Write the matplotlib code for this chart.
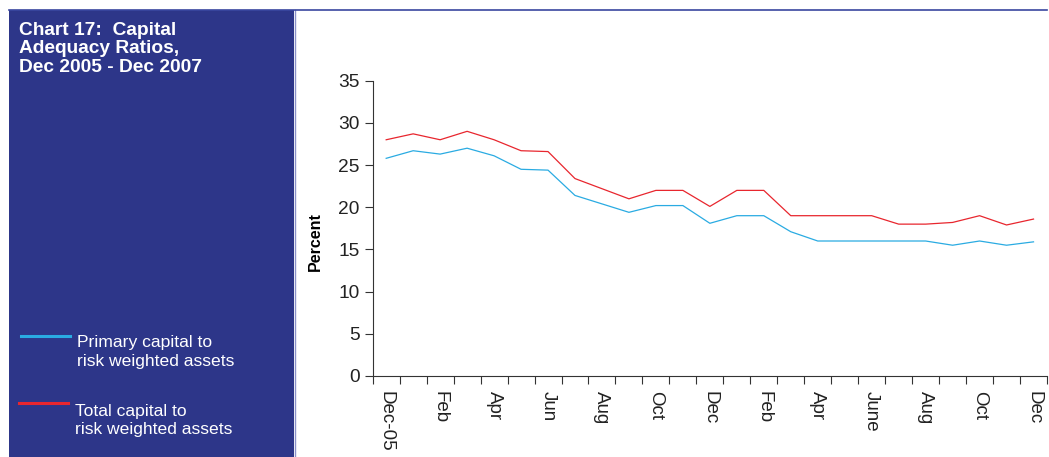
import matplotlib.pyplot as plt
from matplotlib.patches import Rectangle
from matplotlib.lines import Line2D

plt.rcParams['font.family'] = ['Liberation Sans', 'DejaVu Sans']

# monthly observations, Dec 2005 - Dec 2007
months = ["Dec-05", "Jan", "Feb", "Mar", "Apr", "May", "Jun", "Jul", "Aug", "Sep", "Oct", "Nov",
          "Dec", "Jan", "Feb", "Mar", "Apr", "May", "June", "Jul", "Aug", "Sep", "Oct", "Nov", "Dec"]
primary = [25.8, 26.7, 26.3, 27.0, 26.1, 24.5, 24.4, 21.4, 20.4, 19.4, 20.2, 20.2,
           18.1, 19.0, 19.0, 17.1, 16.0, 16.0, 16.0, 16.0, 16.0, 15.5, 16.0, 15.5, 15.9]
total = [28.0, 28.7, 28.0, 29.0, 28.0, 26.7, 26.6, 23.4, 22.2, 21.0, 22.0, 22.0,
         20.1, 22.0, 22.0, 19.0, 19.0, 19.0, 19.0, 18.0, 18.0, 18.2, 19.0, 17.9, 18.6]

BLUE = "#2aabe2"
RED = "#e8262e"
PANEL = "#2d3689"

W, H = 1049, 457
fig = plt.figure(figsize=(W / 100, H / 100), dpi=100)

# helpers: pixel position -> figure fraction
def fx(px):
    return px / W

def fy(py):
    return 1 - py / H

# left title/legend panel and top rule
fig.patches.append(Rectangle((fx(9), 0), fx(294) - fx(9), fy(10), transform=fig.transFigure,
                             facecolor=PANEL, edgecolor="none", zorder=0))
fig.lines.append(Line2D([fx(294.5), fx(294.5)], [0, fy(10)], transform=fig.transFigure,
                        color="#8a91c9", lw=1.0))
fig.lines.append(Line2D([fx(9), fx(1047)], [fy(10.3), fy(10.3)], transform=fig.transFigure,
                        color="#3a47a0", lw=1.2))

fig.text(fx(19), fy(22), "Chart 17:  Capital\nAdequacy Ratios,\nDec 2005 - Dec 2007",
         color="white", fontsize=13.8, fontweight="bold", va="top", ha="left", linespacing=1.1)

fig.lines.append(Line2D([fx(21), fx(70)], [fy(335.5), fy(335.5)], transform=fig.transFigure,
                        color=BLUE, lw=2.2))
fig.text(fx(77), fy(352), "Primary capital to\nrisk weighted assets", color="white",
         fontsize=12.6, va="center", ha="left", linespacing=1.3)
fig.lines.append(Line2D([fx(19), fx(68)], [fy(403), fy(403)], transform=fig.transFigure,
                        color=RED, lw=2.2))
fig.text(fx(75), fy(420.5), "Total capital to\nrisk weighted assets", color="white",
         fontsize=12.6, va="center", ha="left", linespacing=1.3)

ax = fig.add_axes([fx(372.7), fy(376), fx(1047) - fx(372.7), fy(80.7) - fy(376)])
x = list(range(len(months)))
ax.plot(x, primary, color=BLUE, lw=0.9)
ax.plot(x, total, color=RED, lw=0.9)

ax.set_xlim(-0.5, len(months) - 0.5)
ax.set_ylim(0, 35)
ax.set_yticks(range(0, 36, 5))
# ticks sit between months, labels on every other month
ax.set_xticks([i - 0.5 for i in range(len(months) + 1)], minor=False)
ax.set_xticklabels([])
ax.set_xticks(x[::2], minor=True)
ax.set_xticklabels(months[::2], minor=True, rotation=270, fontsize=13.5, va="top", ha="center")
ax.tick_params(axis="x", which="minor", length=0, pad=11)
ax.tick_params(axis="x", which="major", length=5.5, width=0.8, color="#333333")
ax.tick_params(axis="y", length=5.5, width=0.8, color="#333333", labelsize=13.8, pad=4)
for lbl in ax.get_yticklabels():
    lbl.set_color("#222222")
for lbl in ax.get_xticklabels(minor=True):
    lbl.set_color("#222222")

for side in ("top", "right"):
    ax.spines[side].set_visible(False)
for side in ("left", "bottom"):
    ax.spines[side].set_linewidth(0.8)
    ax.spines[side].set_color("#333333")

ax.set_ylabel("Percent", fontsize=11.5, fontweight="bold")
ax.yaxis.set_label_coords(-0.074, 0.455)

fig.savefig("out.png", dpi=100)
